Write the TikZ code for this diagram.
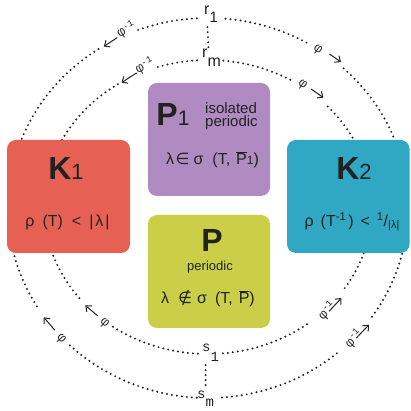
\documentclass[tikz,border=0pt]{standalone}
\usepackage{fontspec}
\setmainfont{Liberation Sans}
\newfontfamily\monof{Liberation Mono}
\newfontfamily\symf{DejaVu Sans}
\usetikzlibrary{arrows.meta}
\definecolor{kred}{HTML}{E66153}
\definecolor{ppurple}{HTML}{B08BC1}
\definecolor{pgreen}{HTML}{CBCF48}
\definecolor{kblue}{HTML}{30A8C3}
\definecolor{ink}{HTML}{222222}
\newcommand\fsz[1]{\fontsize{#1}{#1}\selectfont}
\newcommand\earc[6]{\draw[dots] ([shift={(#1,#2)}]#5:#3pt and #4pt) arc[start angle=#5, end angle=#6, x radius=#3pt, y radius=#4pt];}
\newcommand\ovl[1]{\ensuremath{\overline{\hbox{#1}}}}
\begin{document}
\begin{tikzpicture}[x=1pt,y=1pt,
  dots/.style={line width=2.2pt, dash pattern=on 0pt off 5pt, line cap=round, draw=ink},
  arr/.style={-{Straight Barb[length=4.5pt,width=8pt]}, line width=1pt, draw=ink},
  lab/.style={font=\monof\fsz{13}, text=ink, inner sep=0pt, anchor=base west},
  box/.style={rounded corners=9pt, draw=none, minimum width=122pt, minimum height=113pt, inner sep=0pt},
  bigt/.style={font=\fsz{32}\bfseries, text=ink, inner sep=0pt, anchor=base},
  formula/.style={font=\fsz{16}, text=ink, inner sep=0pt, anchor=base},
  small/.style={font=\fontsize{15}{12.5}\selectfont, text=ink, inner sep=0pt},
  rlab/.style={font=\fsz{16}, text=ink, inner sep=0pt, anchor=base west},
  slab/.style={font=\monof\fsz{14}, text=ink, inner sep=0pt, anchor=base west}]
\useasboundingbox (0,0) rectangle (410,411);
% outer ring
\earc{208}{203}{200}{190}{-34.9}{47.5}
\earc{208}{203}{200}{190}{60.5}{85.5}
\earc{208}{203}{200}{190}{93.2}{110.5}
\earc{208}{203}{200}{190}{123.2}{212.6}
\earc{208}{203}{200}{190}{226.3}{266.8}
\earc{208}{203}{200}{190}{274}{310.8}
% inner ring
\earc{208}{204}{164}{147}{-33.5}{44.4}
\earc{208}{204}{164}{147}{59.9}{85.1}
\earc{208}{204}{164}{147}{93.8}{108.7}
\earc{208}{204}{164}{147}{123.3}{218.6}
\earc{208}{204}{164}{147}{234.6}{266.5}
\earc{208}{204}{164}{147}{275.2}{308.9}
% ring labels
\node[rlab] (r1) at (204,396) {r\raisebox{-8pt}{\fsz{15}1}};
\node[rlab] (rm) at (202,353) {r\raisebox{-9pt}{m}};
\node[slab] (s1) at (202,59) {s\raisebox{-10pt}{1}};
\node[slab] (sm) at (197,12.5) {s\raisebox{-8pt}{m}};
\draw[dots] ([xshift=-3.6pt,yshift=-4pt]r1.south) -- ([xshift=-3pt,yshift=1pt]rm.north);
\draw[dots] ([xshift=-5pt,yshift=-3pt]s1.south) -- ([yshift=4pt]sm.north);
% arrow labels
\begin{scope}[shift={(117.7,372.5)}, rotate=30, transform shape]
  \coordinate (otlT) at (0,1); \coordinate (otlH) at (-16,0);
  \draw[arr] (otlT) -- (otlH);
  \node[lab] (otl) at (2.1,-0.5) {φ\textsuperscript{-1}};
\end{scope}
\begin{scope}[shift={(136.1,336.1)}, rotate=28, transform shape]
  \coordinate (itlT) at (1.5,1.5); \coordinate (itlH) at (-16.5,0);
  \draw[arr] (itlT) -- (itlH);
  \node[lab] (itl) at (2.1,0) {φ\textsuperscript{-1}};
\end{scope}
\begin{scope}[shift={(325.6,356.7)}, rotate=-35, transform shape]
  \coordinate (otrT) at (3,2.5); \coordinate (otrH) at (17,2.5);
  \draw[arr] (otrT) -- (otrH);
  \node[lab] (otr) at (-12.9,-3.5) {φ};
\end{scope}
\begin{scope}[shift={(308.6,320.1)}, rotate=-35, transform shape]
  \coordinate (itrT) at (1,3); \coordinate (itrH) at (16,3);
  \draw[arr] (itrT) -- (itrH);
  \node[lab] (itr) at (-12.9,-0.5) {φ};
\end{scope}
\begin{scope}[shift={(53.6,82.3)}, rotate=-49, transform shape]
  \coordinate (oblT) at (2,0); \coordinate (oblH) at (-15,0);
  \draw[arr] (oblT) -- (oblH);
  \node[lab] (obl) at (8.6,-3.5) {φ};
\end{scope}
\begin{scope}[shift={(95.3,97.2)}, rotate=-40, transform shape]
  \coordinate (iblT) at (3,0); \coordinate (iblH) at (-13,0);
  \draw[arr] (iblT) -- (iblH);
  \node[lab] (ibl) at (8.8,-3.5) {φ};
\end{scope}
\begin{scope}[shift={(329.3,105.1)}, rotate=47, transform shape]
  \coordinate (ibrT) at (-4,-3.5); \coordinate (ibrH) at (14,-3.5);
  \draw[arr] (ibrT) -- (ibrH);
  \node[lab] (ibr) at (-14.7,-5.3) {φ\textsuperscript{-1}};
\end{scope}
\begin{scope}[shift={(356.6,75.9)}, rotate=46.5, transform shape]
  \coordinate (obrT) at (-2.5,-1.8); \coordinate (obrH) at (16,-1.8);
  \draw[arr] (obrT) -- (obrH);
  \node[lab] (obr) at (-14.3,-4.3) {φ\textsuperscript{-1}};
\end{scope}
% boxes
\node[box, fill=kred, minimum width=123pt] (K1) at (68.5,214.5) {};
\node[box, fill=kblue, minimum width=122.5pt] (K2) at (348.25,214.5) {};
\node[box, fill=ppurple] (P1) at (209,271.5) {};
\node[box, fill=pgreen] (P) at (209,139.5) {};
% box texts
\node[bigt] (K1t) at (66,231) {K{\mdseries\fsz{22}1}};
\node[bigt] (K2t) at (354,231) {K{\mdseries\fsz{22}2}};
\node[bigt] (P1t) at (173,285) {P{\mdseries\fsz{21}1}};
\node[small, anchor=base west, align=left] (P1d) at (205,284.5) {isolated\\periodic};
\node[bigt] (Pt) at (212,159) {P};
\node[small, font=\fsz{13}, anchor=base] (Pd) at (210,140) {periodic};
\node[formula] (K1f) at (67.5,184.4) {ρ\hspace{8pt}(T)\hspace{9pt}<\hspace{8pt}|\hspace{2pt}λ\hspace{2pt}|};
\node[formula] (K2f) at (352,184.4) {ρ\hspace{7pt}(T\textsuperscript{-1}\hspace{2pt})\hspace{7pt}<\hspace{7pt}\textsuperscript{1}/\raisebox{-2pt}{\fsz{11}|λ|}};
\node[formula] (P1f) at (212.5,246.3) {λ\hspace{1.5pt}{\symf ∈}\hspace{4pt}σ\hspace{9pt}(T,\hspace{6pt}\ovl{P}{\fsz{12}1})};
\node[formula] (Pf) at (208,107.4) {λ\hspace{9pt}{\symf ∉}\hspace{5pt}σ\hspace{8pt}(T,\hspace{6pt}\ovl{P})};
\end{tikzpicture}
\end{document}
